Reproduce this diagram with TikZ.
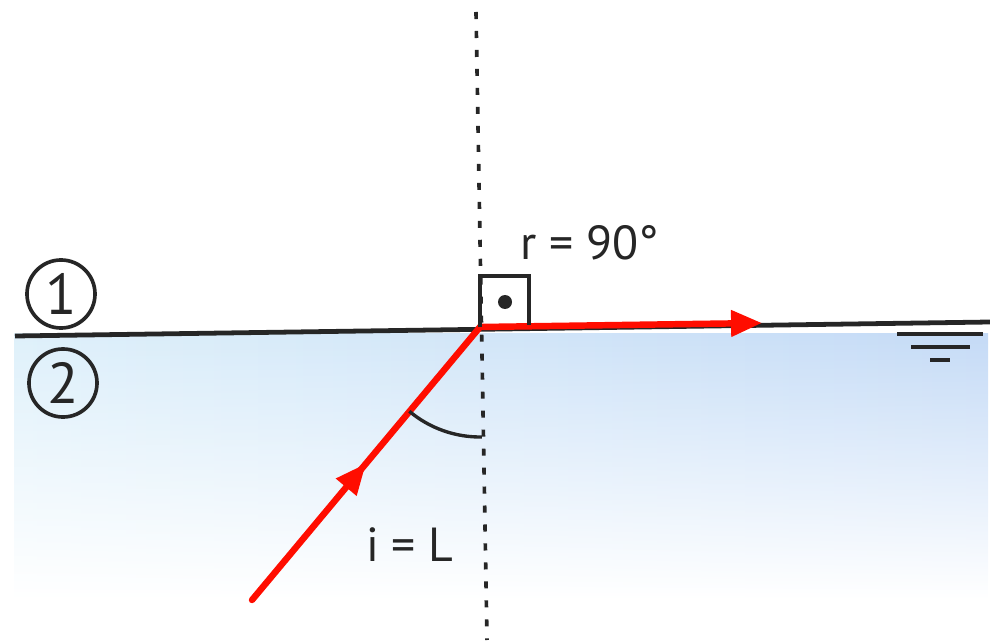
\documentclass[tikz,border=0pt]{standalone}
\usepackage{fontspec}
\setmainfont{PT Sans}
\usetikzlibrary{arrows.meta, positioning, calc, decorations.markings, fadings}
\definecolor{waterleft}{RGB}{222,240,250}
\definecolor{waterright}{RGB}{196,218,246}

\begin{document}
\begin{tikzpicture}[
      x=0.025cm, y=-0.025cm,
      surface/.style={line width=3.4pt, black!85},
      normal/.style={line width=2.6pt, black!85, dash pattern=on 5pt off 8.5pt},
      ray/.style={line width=4.6pt, red!90!orange, line cap=round},
      rayarrow/.style={ray, -{Triangle[length=22pt, width=18pt]}},
      midarrow/.style={postaction={decorate}, decoration={markings, mark=at position 0.5 with {\arrow[red!90!orange]{Triangle[length=22pt, width=18pt]}}}},
      medium/.style={circle, draw, line width=2.6pt, black!85, minimum size=1.7cm, inner sep=0pt, font=\fontsize{41}{43}\selectfont},
      label/.style={font=\fontsize{34}{40}\selectfont, text=black!85, inner sep=0pt}
    ]
    \useasboundingbox (0,0) rectangle (990,642);

    % water
    \shade[left color=waterleft, right color=waterright, path fading=south] (15,333) rectangle (990,600);

    \coordinate (O) at (480,327);
    \coordinate (src) at (252,600);
    \coordinate (tip) at (762,323);

    % normal and surface
    \draw[normal] (476,12) -- (487,640);
    \draw[surface] (15,336) -- (990,322);

    % water mark
    \draw[line width=3pt, black!85] (897,334) -- (983,334);
    \draw[line width=3pt, black!85] (911,347) -- (970,347);
    \draw[line width=3pt, black!85] (930,360) -- (950,360);

    % rays
    \draw[ray, midarrow] (src) -- (O);
    \draw[rayarrow] (O) -- (tip);

    % right angle
    \draw[line width=2.4pt, black!85] (O) -- (480,276) -- (529,276) -- (529,325);
    \fill[black!85] (505,302) circle (7);

    % angle i
    \draw[line width=2.4pt, black!85] ($(O)+(130:110)$) arc[start angle=130, end angle=89, radius=110];

    \node[medium] (m1) at (61,294) {1};
    \node[medium] (m2) at (63,383) {2};
    \node[label] (r) at (590,243) {r = 90°};
    \node[label] (i) at (410,545) {i = L};
  \end{tikzpicture}
\end{document}
